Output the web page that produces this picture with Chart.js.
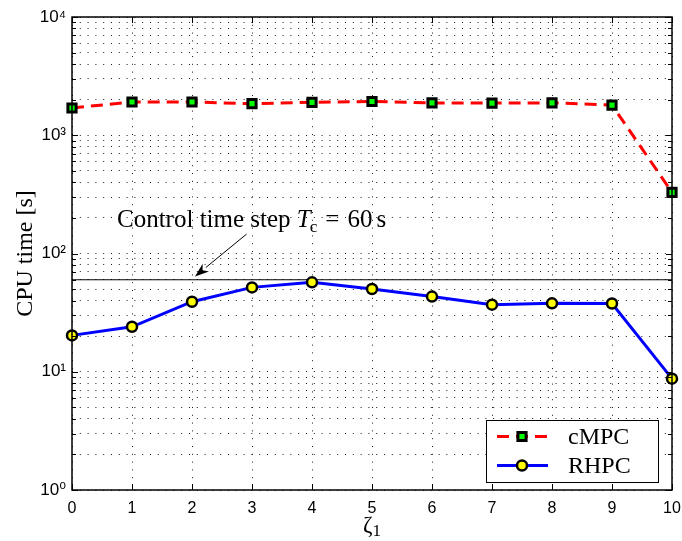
<!DOCTYPE html>
<html>
<head>
<meta charset="utf-8">
<script src="https://cdn.jsdelivr.net/npm/chart.js@4/dist/chart.umd.min.js"></script>
<style>
  html, body { margin: 0; padding: 0; background: #fff; }
  #wrap { width: 682px; height: 541px; position: relative; }
</style>
</head>
<body>
<div id="wrap"><canvas id="c" width="682" height="541"></canvas></div>
<script>
// zeta_1 values on the x axis
const zeta = [0, 1, 2, 3, 4, 5, 6, 7, 8, 9, 10];
// CPU time [s] for the centralized MPC
const cmpcTime = [1700, 1910, 1910, 1850, 1900, 1930, 1875, 1870, 1880, 1800, 329];
// CPU time [s] for the receding-horizon controller
const rhpcTime = [20.3, 24.0, 39.1, 51.7, 57.0, 50.1, 43.2, 36.9, 37.9, 37.8, 8.74];
// control time step T_c [s]
const controlStep = 60;
// y axis decades
const yDecades = [1, 10, 100, 1000, 10000];
const supers = ['\u2070', '\u00B9', '\u00B2', '\u00B3', '\u2074'];
// annotation arrow: tail and tip in data units
const arrowTail = { x: 2.91, y: 146 };
const arrowTip = { x: 2.05, y: 64 };
const noteAnchor = { x: 0.75, y: 169 };

const serif = '"Liberation Serif", "Times New Roman", serif';
const sans = '"Liberation Sans", Arial, "DejaVu Sans", sans-serif';

const pts = (xs, ys) => xs.map((x, i) => ({ x, y: ys[i] }));

// minor + major log ticks 1..9 x 10^k
function logTicks() {
  const t = [];
  for (let k = 0; k < yDecades.length - 1; k++) {
    for (let m = 1; m < 10; m++) t.push({ value: m * yDecades[k] });
  }
  t.push({ value: yDecades[yDecades.length - 1] });
  return t;
}

const framePlugin = {
  id: 'frame',
  afterDraw(chart) {
    const { ctx, chartArea: a, scales } = chart;
    const xs = scales.x, ys = scales.y;
    ctx.save();
    // inward tick marks
    ctx.strokeStyle = '#000';
    ctx.lineWidth = 1;
    ctx.beginPath();
    ys.ticks.forEach(t => {
      const y = Math.round(ys.getPixelForValue(t.value)) + 0.5;
      const major = yDecades.includes(t.value);
      const L = major ? 6 : 4;
      ctx.moveTo(a.left, y); ctx.lineTo(a.left + L, y);
      ctx.moveTo(a.right, y); ctx.lineTo(a.right - L, y);
    });
    xs.ticks.forEach(t => {
      const x = Math.round(xs.getPixelForValue(t.value)) + 0.5;
      ctx.moveTo(x, a.bottom); ctx.lineTo(x, a.bottom - 6);
      ctx.moveTo(x, a.top); ctx.lineTo(x, a.top + 6);
    });
    ctx.stroke();
    // axes box
    ctx.lineWidth = 1.5;
    ctx.strokeRect(a.left, a.top, a.right - a.left, a.bottom - a.top);

    // x axis title: zeta with subscript 1
    ctx.fillStyle = '#000';
    ctx.textAlign = 'left';
    ctx.textBaseline = 'alphabetic';
    const cx = (a.left + a.right) / 2;
    ctx.font = '23px ' + serif;
    const zw = ctx.measureText('\u03B6').width;
    ctx.font = '17px ' + serif;
    const ow = ctx.measureText('1').width;
    const sx = cx - (zw + ow) / 2;
    ctx.font = '23px ' + serif;
    ctx.fillText('\u03B6', sx, 532);
    ctx.font = '17px ' + serif;
    ctx.fillText('1', sx + zw, 536);

    // annotation arrow
    const tx = xs.getPixelForValue(arrowTail.x), ty = ys.getPixelForValue(arrowTail.y);
    const hx = xs.getPixelForValue(arrowTip.x), hy = ys.getPixelForValue(arrowTip.y);
    const ang = Math.atan2(hy - ty, hx - tx);
    const hl = 14, hw = 5;
    const bx = hx - hl * Math.cos(ang), by = hy - hl * Math.sin(ang);
    ctx.lineWidth = 1;
    ctx.beginPath(); ctx.moveTo(tx, ty); ctx.lineTo(bx, by); ctx.stroke();
    ctx.beginPath();
    ctx.moveTo(hx, hy);
    ctx.lineTo(bx + hw * Math.sin(ang), by - hw * Math.cos(ang));
    ctx.lineTo(hx - 0.7 * hl * Math.cos(ang), hy - 0.7 * hl * Math.sin(ang));
    ctx.lineTo(bx - hw * Math.sin(ang), by + hw * Math.cos(ang));
    ctx.closePath();
    ctx.fillStyle = '#000';
    ctx.fill();

    // annotation text
    let px = xs.getPixelForValue(noteAnchor.x);
    const py = ys.getPixelForValue(noteAnchor.y);
    ctx.textBaseline = 'alphabetic';
    ctx.textAlign = 'left';
    ctx.font = '25px ' + serif;
    ctx.fillText('Control time step ', px, py);
    px += ctx.measureText('Control time step ').width;
    ctx.font = 'italic 25px ' + serif;
    ctx.fillText('T', px, py);
    px += ctx.measureText('T').width - 1;
    ctx.font = '17px ' + serif;
    ctx.fillText('c', px, py + 5);
    px += ctx.measureText('c').width + 8;
    ctx.font = '25px ' + serif;
    ctx.fillText('=', px, py);
    px += ctx.measureText('=').width + 8;
    ctx.fillText('60', px, py);
    px += ctx.measureText('60').width + 4;
    ctx.fillText('s', px, py);

    // legend
    const lx = 486, ly = 420, lw = 172, lh = 62;
    ctx.fillStyle = '#fff';
    ctx.fillRect(lx, ly, lw, lh);
    ctx.lineWidth = 1;
    ctx.strokeStyle = '#000';
    ctx.strokeRect(lx + 0.5, ly + 0.5, lw, lh);
    const rows = [
      { ds: chart.data.datasets[0], y: 436.5 },
      { ds: chart.data.datasets[1], y: 465.5 }
    ];
    rows.forEach(r => {
      const d = r.ds;
      ctx.save();
      ctx.strokeStyle = d.borderColor;
      ctx.lineWidth = d.borderWidth;
      ctx.setLineDash(d.borderDash || []);
      ctx.beginPath(); ctx.moveTo(497, r.y); ctx.lineTo(548, r.y); ctx.stroke();
      ctx.restore();
      ctx.save();
      ctx.fillStyle = d.pointBackgroundColor;
      ctx.strokeStyle = d.pointBorderColor;
      ctx.lineWidth = d.pointBorderWidth;
      ctx.beginPath();
      if (d.pointStyle === 'rect') {
        const s = Math.SQRT1_2 * d.pointRadius;
        ctx.rect(522 - s, r.y - s, 2 * s, 2 * s);
      } else {
        ctx.arc(522, r.y, d.pointRadius, 0, Math.PI * 2);
      }
      ctx.fill(); ctx.stroke();
      ctx.restore();
      ctx.fillStyle = '#000';
      ctx.font = '24px ' + serif;
      ctx.textBaseline = 'middle';
      ctx.fillText(d.label, 568, r.y + 1);
    });
    ctx.restore();
  }
};

new Chart(document.getElementById('c'), {
  type: 'line',
  data: {
    datasets: [
      {
        label: 'cMPC',
        data: pts(zeta, cmpcTime),
        borderColor: '#ff0000',
        borderWidth: 3,
        borderDash: [12, 7],
        pointStyle: 'rect',
        pointRadius: 5.8,
        pointBorderWidth: 3,
        pointBackgroundColor: '#00ff00',
        pointBorderColor: '#000',
        tension: 0,
        clip: false
      },
      {
        label: 'RHPC',
        data: pts(zeta, rhpcTime),
        borderColor: '#0000ff',
        borderWidth: 3,
        pointStyle: 'circle',
        pointRadius: 5,
        pointBorderWidth: 2.5,
        pointBackgroundColor: '#ffff00',
        pointBorderColor: '#000',
        tension: 0,
        clip: false
      },
      {
        label: 'Tc',
        data: [{ x: zeta[0], y: controlStep }, { x: zeta[zeta.length - 1], y: controlStep }],
        borderColor: '#000',
        borderWidth: 1.2,
        pointRadius: 0,
        tension: 0
      }
    ]
  },
  options: {
    responsive: false,
    animation: false,
    events: [],
    layout: { padding: { top: 17, right: 10, left: 0, bottom: 0 } },
    plugins: { legend: { display: false }, tooltip: { enabled: false } },
    scales: {
      x: {
        type: 'linear',
        min: 0, max: 10,
        afterBuildTicks(s) { s.ticks = zeta.map(v => ({ value: v })); },
        afterFit(s) { s.height = 51; s.paddingLeft = 0; s.paddingRight = 0; },
        ticks: {
          color: '#000', font: { family: sans, size: 16 }, padding: 9,
          autoSkip: false, maxRotation: 0,
          callback: v => String(v)
        },
        grid: { color: 'rgba(0,0,0,0.9)', lineWidth: 1, drawTicks: false },
        border: { display: false, dash: [1, 6.8] }
      },
      y: {
        type: 'logarithmic',
        min: 1, max: 10000,
        afterBuildTicks(s) { s.ticks = logTicks(); },
        afterFit(s) { s.width = 72; s.paddingTop = 0; s.paddingBottom = 0; },
        ticks: {
          color: '#000', font: { family: sans, size: 17 }, padding: 6,
          autoSkip: false,
          callback: v => {
            const k = yDecades.indexOf(v);
            return k >= 0 ? '10' + supers[k] : '';
          }
        },
        grid: { color: 'rgba(0,0,0,0.9)', lineWidth: 1, drawTicks: false },
        border: { display: false, dash: [1, 6.8] },
        title: {
          display: true, text: 'CPU time [s]', color: '#000',
          font: { family: serif, size: 24 }, padding: { top: 11, bottom: 0 }
        }
      }
    }
  },
  plugins: [framePlugin]
});
</script>
</body>
</html>
